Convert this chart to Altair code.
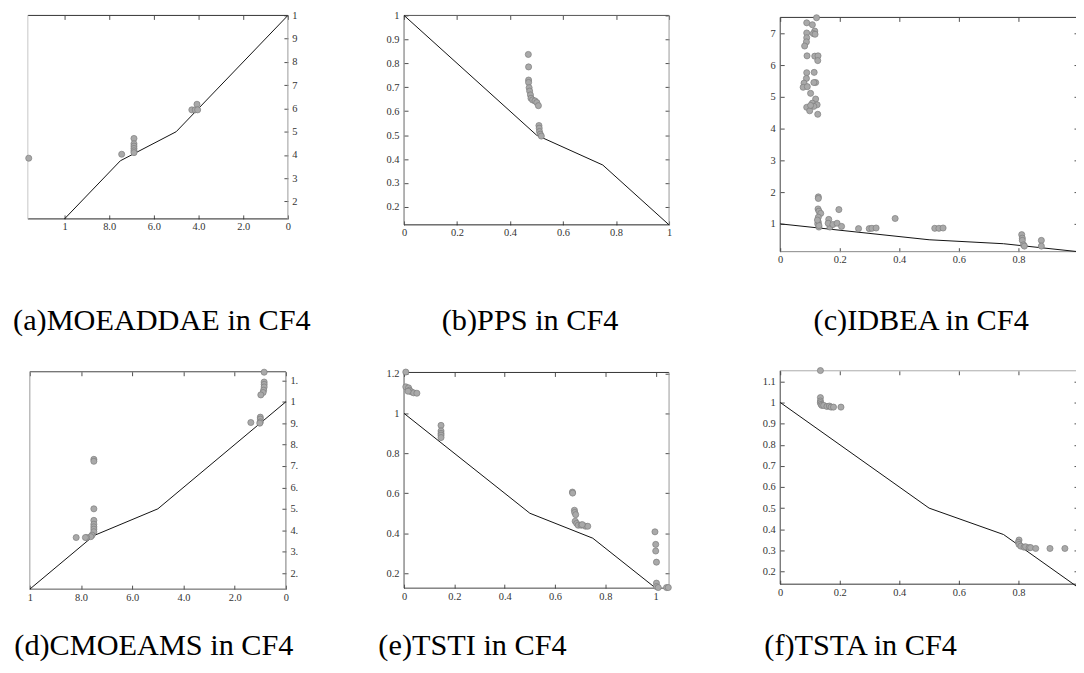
import json
import altair as alt
import pandas as pd

W, H = 1076, 665      # svg size (page margin 8px)
PAGE = 8
T = 4                 # inward tick length
FONT = "Liberation Serif"

# ---------------- data ----------------
# true Pareto front of CF4
pf_x = [0, 0.5, 0.75, 1]
pf_y = [1, 0.5, 0.375, 0.125]

# (a) MOEADDAE
a_x = [1.16, 0.744, 0.689, 0.689, 0.689, 0.689, 0.689, 0.689, 0.43, 0.415, 0.407, 0.404]
a_y = [0.386, 0.403, 0.471, 0.448, 0.438, 0.428, 0.418, 0.41, 0.594, 0.594, 0.618, 0.594]

# (b) PPS
b_x = [0.469, 0.470, 0.470, 0.470, 0.472, 0.474, 0.477, 0.479, 0.485, 0.494, 0.501, 0.507,
       0.509, 0.510, 0.511, 0.514, 0.518]
b_y = [0.837, 0.785, 0.73, 0.72, 0.698, 0.684, 0.668, 0.654, 0.647, 0.643, 0.636, 0.623,
       0.54, 0.529, 0.515, 0.504, 0.496]

# (c) IDBEA
c_x = [0.122, 0.089, 0.108, 0.116, 0.089, 0.111, 0.117, 0.089, 0.088, 0.082,
       0.09, 0.116, 0.127, 0.126, 0.089, 0.114, 0.088, 0.119, 0.113, 0.08,
       0.077, 0.091, 0.102, 0.119, 0.108, 0.124, 0.113, 0.089, 0.099, 0.126, 0.102,
       0.128, 0.128, 0.127, 0.13, 0.136, 0.197, 0.128, 0.128, 0.13, 0.163,
       0.167, 0.161, 0.177, 0.191, 0.206, 0.263, 0.299, 0.308, 0.322, 0.386,
       0.519, 0.533, 0.547, 0.811, 0.813, 0.813, 0.817, 0.877, 0.877, 0.82,
       0.126, 0.13, 0.125]
c_y = [7.49, 7.33, 7.27, 7.07, 7.01, 6.99, 6.97, 6.86, 6.73, 6.60,
       6.29, 6.28, 6.29, 6.14, 5.76, 5.77, 5.58, 5.45, 5.45, 5.43,
       5.30, 5.32, 5.11, 4.93, 4.80, 4.75, 4.70, 4.67, 4.56, 4.45, 4.73,
       1.85, 1.80, 1.47, 1.40, 1.33, 1.45, 1.21, 1.05, 0.90, 1.14,
       0.90, 1.02, 0.98, 1.02, 0.92, 0.85, 0.85, 0.86, 0.87, 1.17,
       0.86, 0.86, 0.87, 0.66, 0.55, 0.48, 0.34, 0.48, 0.30, 0.30,
       1.0, 0.95, 1.12]

# (d) CMOEAMS
d_x = [0.085, 0.085, 0.085, 0.085, 0.087, 0.089, 0.098, 0.1, 0.1, 0.1, 0.102, 0.137,
       0.75, 0.75, 0.75, 0.75, 0.75, 0.75, 0.75, 0.75, 0.757, 0.762, 0.778, 0.783, 0.819]
d_y = [1.138, 1.092, 1.081, 1.069, 1.054, 1.043, 1.032, 0.928, 0.919, 0.906, 0.9, 0.903,
       0.731, 0.722, 0.5, 0.446, 0.428, 0.416, 0.405, 0.393, 0.377, 0.37, 0.366, 0.366, 0.366]

# (e) TSTI
e_x = [0.007, 0.007, 0.018, 0.022, 0.029, 0.038, 0.051, 0.016,
       0.147, 0.147, 0.147, 0.147, 0.147,
       0.669, 0.67, 0.677, 0.678, 0.682, 0.68, 0.686, 0.692, 0.704, 0.721, 0.73, 0.708,
       0.997, 1.0, 1.0, 1.003, 1.003, 1.003, 1.01, 1.043, 1.05]
e_y = [1.207, 1.133, 1.128, 1.116, 1.108, 1.103, 1.101, 1.111,
       0.94, 0.912, 0.9, 0.891, 0.879,
       0.606, 0.601, 0.515, 0.504, 0.493, 0.46, 0.449, 0.44, 0.44, 0.435, 0.435, 0.443,
       0.407, 0.344, 0.311, 0.255, 0.15, 0.133, 0.128, 0.128, 0.128]

# (f) TSTA
f_x = [0.135, 0.135, 0.135, 0.135, 0.137, 0.14, 0.146, 0.157, 0.165, 0.171, 0.179, 0.204,
       0.802, 0.8, 0.802, 0.808, 0.819, 0.824, 0.836, 0.841, 0.858, 0.906, 0.956]
f_y = [1.151, 1.023, 1.007, 0.999, 0.991, 0.986, 0.986, 0.981, 0.983, 0.978, 0.978, 0.978,
       0.349, 0.338, 0.328, 0.32, 0.315, 0.317, 0.313, 0.313, 0.309, 0.309, 0.309]

# tick values and labels
x_ticks = [0, 0.2, 0.4, 0.6, 0.8, 1]
x_labels = ["0", "0.2", "0.4", "0.6", "0.8", "1"]
x_labels_mirror = ["0", "2.0", "4.0", "6.0", "8.0", "1"]
x_ticks_c = [0, 0.2, 0.4, 0.6, 0.8]
x_labels_c = ["0", "0.2", "0.4", "0.6", "0.8"]

y_ticks_01 = [0.2, 0.3, 0.4, 0.5, 0.6, 0.7, 0.8, 0.9, 1]
y_labels_01 = ["0.2", "0.3", "0.4", "0.5", "0.6", "0.7", "0.8", "0.9", "1"]
y_labels_a = ["2", "3", "4", "5", "6", "7", "8", "9", "1"]
y_ticks_c = [1, 2, 3, 4, 5, 6, 7]
y_labels_c = ["1", "2", "3", "4", "5", "6", "7"]
y_ticks_d = [0.2, 0.3, 0.4, 0.5, 0.6, 0.7, 0.8, 0.9, 1, 1.1]
y_labels_d = ["2.", "3.", "4.", "5.", "6.", "7.", "8.", "9.", "1", "1."]
y_ticks_e = [0.2, 0.4, 0.6, 0.8, 1, 1.2]
y_labels_e = ["0.2", "0.4", "0.6", "0.8", "1", "1.2"]
y_ticks_f = [0.2, 0.3, 0.4, 0.5, 0.6, 0.7, 0.8, 0.9, 1, 1.1]
y_labels_f = ["0.2", "0.3", "0.4", "0.5", "0.6", "0.7", "0.8", "0.9", "1", "1.1"]

captions = ["(a)MOEADDAE in CF4", "(b)PPS in CF4", "(c)IDBEA in CF4",
            "(d)CMOEAMS in CF4", "(e)TSTI in CF4", "(f)TSTA in CF4"]

# ---------------- layout (page pixels) ----------------
CAPTION_POS = [(163, 330), (534, 330), (928, 330), (155, 657), (476, 657), (867, 657)]

pf = pd.DataFrame({"x": pf_x, "y": pf_y})


def lab_expr(values, labels):
    return f"{json.dumps(labels)}[indexof({json.dumps(values)}, datum.value)]"


def panel(xs, ys, xdom, ydom, xpx, ypx, xt, xl, yt, yl, mirrored, colors):
    xr = [p - PAGE for p in xpx]
    yr = [p - PAGE for p in ypx]
    left, right = min(xr), max(xr)
    top, bottom = min(yr), max(yr)
    xsc = alt.Scale(domain=xdom, range=xr, nice=False, zero=False)
    ysc = alt.Scale(domain=ydom, range=yr, nice=False, zero=False)
    common = dict(grid=False, domain=False, tickSize=T, tickColor="#222",
                  tickWidth=0.8, title=None)
    lab = dict(labelFont=FONT, labelFontSize=10.5, labelColor="#333",
               labelFlush=False, labelOverlap=False)
    bottom_axis = alt.Axis(orient="bottom", offset=bottom - T - H, values=xt,
                           labelExpr=lab_expr(xt, xl), labelPadding=3, **common, **lab)
    top_axis = alt.Axis(orient="top", offset=-(top + T), values=xt, labels=False, **common)
    if mirrored:
        ylab_axis = alt.Axis(orient="right", offset=right - T - W, values=yt,
                             labelExpr=lab_expr(yt, yl), labelPadding=4, **common, **lab)
        ytick_axis = None
    else:
        ylab_axis = alt.Axis(orient="left", offset=-(left + T), values=yt,
                             labelExpr=lab_expr(yt, yl), labelPadding=5, **common, **lab)
        ytick_axis = alt.Axis(orient="right", offset=right - T - W, values=yt,
                              labels=False, **common)

    x0, x1 = xdom
    y0, y1 = ydom
    # physical side of domain start / end
    side_x0 = "right" if mirrored else "left"
    side_x1 = "left" if mirrored else "right"
    frame = pd.DataFrame({
        "x": [x0, x0, x0, x1],
        "x2": [x1, x1, x0, x1],
        "y": [y0, y1, y0, y0],
        "y2": [y0, y1, y1, y1],
        "c": [colors["bottom"], colors["top"], colors[side_x0], colors[side_x1]],
    })
    frame_layer = alt.Chart(frame).mark_rule(strokeWidth=1).encode(
        x=alt.X("x:Q", scale=xsc, axis=top_axis),
        x2="x2:Q",
        y=alt.Y("y:Q", scale=ysc, axis=ytick_axis),
        y2="y2:Q",
        color=alt.Color("c:N", scale=None),
    )
    line_layer = alt.Chart(pf).mark_line(color="#111", strokeWidth=1).encode(
        x=alt.X("x:Q", scale=xsc, axis=bottom_axis),
        y=alt.Y("y:Q", scale=ysc, axis=ylab_axis),
    )
    pts = pd.DataFrame({"x": xs, "y": ys})
    pts_layer = alt.Chart(pts).mark_point(
        shape="circle", size=38, fill="#a9a9a9", stroke="#7c7c7c",
        strokeWidth=0.7, opacity=1, fillOpacity=1, filled=False
    ).encode(
        x=alt.X("x:Q", scale=xsc, axis=None),
        y=alt.Y("y:Q", scale=ysc, axis=None),
    )
    return alt.layer(frame_layer, line_layer, pts_layer).resolve_axis(
        x="independent", y="independent")


pa = panel(a_x, a_y, [0, 1.164], [0.125, 1], [290, 28], [218, 13],
           x_ticks, x_labels_mirror, y_ticks_01, y_labels_a, True,
           dict(top="#333", bottom="#222", left="#c8c8c8", right="#9a9a9a"))
pb = panel(b_x, b_y, [0, 1], [0.125, 1], [407, 674], [224, 13],
           x_ticks, x_labels, y_ticks_01, y_labels_01, False,
           dict(top="#555", bottom="#222", left="#666", right="#999"))
pc = panel(c_x, c_y, [0, 1], [0.125, 7.5], [786, 1086], [251, 15],
           x_ticks_c, x_labels_c, y_ticks_c, y_labels_c, False,
           dict(top="#333", bottom="#888", left="#444", right="#999"))
pd_ = panel(d_x, d_y, [0, 1], [0.125, 1.14], [288, 30], [591, 372],
            x_ticks, x_labels_mirror, y_ticks_d, y_labels_d, True,
            dict(top="#444", bottom="#555", left="#999", right="#777"))
pe = panel(e_x, e_y, [0, 1.053], [0.125, 1.205], [407, 674], [590, 372.7],
           x_ticks, x_labels, y_ticks_e, y_labels_e, False,
           dict(top="#333", bottom="#444", left="#555", right="#999"))
pf_panel = panel(f_x, f_y, [0, 1], [0.14, 1.15], [786, 1086], [586, 371],
                 x_ticks_c, x_labels_c, y_ticks_f, y_labels_f, False,
                 dict(top="#aaa", bottom="#333", left="#444", right="#999"))

caption_layers = []
for cap, (cx, cy) in zip(captions, CAPTION_POS):
    caption_layers.append(
        alt.Chart(pd.DataFrame({"t": [cap]})).mark_text(
            font=FONT, fontSize=30.5, align="center", baseline="alphabetic", color="#000"
        ).encode(text="t:N", x=alt.value(cx - PAGE), y=alt.value(cy - PAGE))
    )

chart = alt.layer(pa, pb, pc, pd_, pe, pf_panel, *caption_layers).resolve_scale(
    x="independent", y="independent"
).properties(
    width=W, height=H, padding=0,
    autosize=alt.AutoSizeParams(type="none"),
    background="white",
).configure_view(strokeWidth=0)

chart.save("out.html", embed_options={"renderer": "svg", "actions": False})
